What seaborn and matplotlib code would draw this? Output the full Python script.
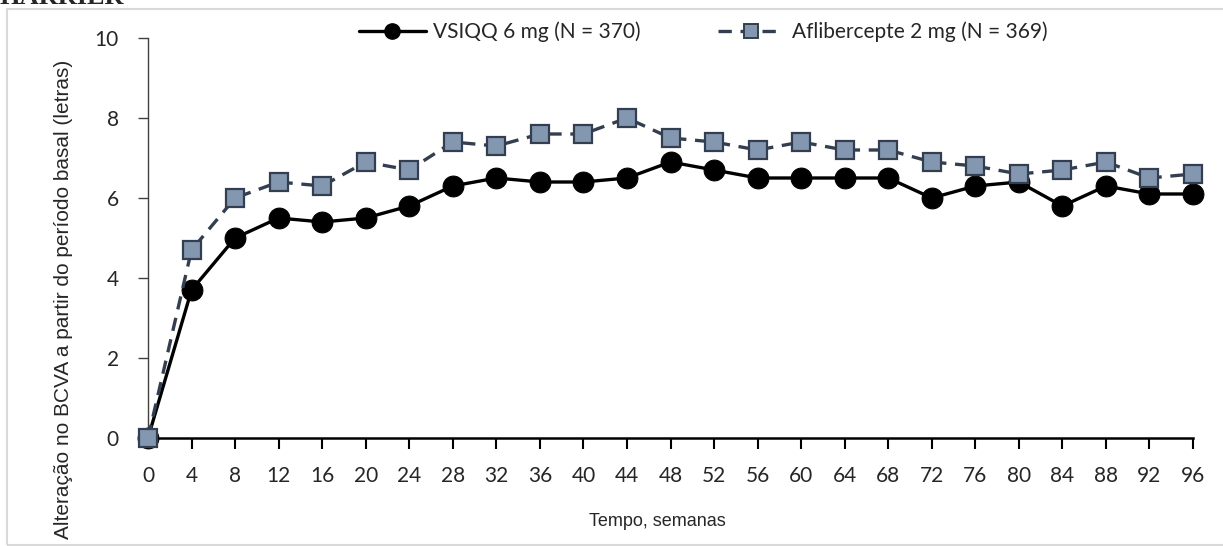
import matplotlib
matplotlib.use("Agg")
import matplotlib.pyplot as plt
import matplotlib.patches as mpatches
from matplotlib.lines import Line2D
import seaborn as sns
import pandas as pd

weeks = [0, 4, 8, 12, 16, 20, 24, 28, 32, 36, 40, 44, 48, 52, 56, 60, 64, 68, 72, 76, 80, 84, 88, 92, 96]
vsiqq = [0, 3.7, 5.0, 5.5, 5.4, 5.5, 5.8, 6.3, 6.5, 6.4, 6.4, 6.5, 6.9, 6.7, 6.5, 6.5, 6.5, 6.5, 6.0, 6.3, 6.4, 5.8, 6.3, 6.1, 6.1]
aflib = [0, 4.7, 6.0, 6.4, 6.3, 6.9, 6.7, 7.4, 7.3, 7.6, 7.6, 8.0, 7.5, 7.4, 7.2, 7.4, 7.2, 7.2, 6.9, 6.8, 6.6, 6.7, 6.9, 6.5, 6.6]
labels = ["VSIQQ 6 mg (N = 370)", "Aflibercepte 2 mg (N = 369)"]
yticks = [0, 2, 4, 6, 8, 10]
title = "HARRIER"
xlabel = "Tempo, semanas"
ylabel = "Alteração no BCVA a partir do período basal (letras)"

sns.set_theme(style="white")
plt.rcParams['font.family'] = ['Lato', 'DejaVu Sans']

W, H = 1223, 546
fig = plt.figure(figsize=(W / 100, H / 100), dpi=100)
ax = fig.add_axes([148 / W, 1 - 438 / H, (1193 - 148) / W, (438 - 38) / H])

df1 = pd.DataFrame({"x": weeks, "y": vsiqq})
df2 = pd.DataFrame({"x": weeks, "y": aflib})

dark = "#333F50"
sqfill = "#8497B0"

sns.lineplot(data=df1, x="x", y="y", ax=ax, color="black", lw=2.4,
             marker="o", markersize=15, markerfacecolor="black",
             markeredgecolor="black", clip_on=False, zorder=3)
sns.lineplot(data=df2, x="x", y="y", ax=ax, color=dark, lw=2.4,
             dashes=(4, 2.6), marker="s", markersize=13,
             markerfacecolor=sqfill, markeredgecolor=dark, markeredgewidth=1.6,
             clip_on=False, zorder=4)

ax.set_xlim(0, 96)
ax.set_ylim(0, 10)
ax.set_xticks(weeks)
ax.set_xticklabels([str(w) for w in weeks])
ax.set_yticks(yticks)
ax.set_xlabel("")
ax.set_ylabel("")
for s in ["top", "right"]:
    ax.spines[s].set_visible(False)
ax.spines["left"].set_color("#404040")
ax.spines["left"].set_linewidth(1.0)
ax.spines["bottom"].set_color("black")
ax.spines["bottom"].set_linewidth(1.8)
ax.tick_params(axis="x", direction="out", length=8, width=1.5, color="black",
               labelsize=15, pad=12, bottom=True)
ax.tick_params(axis="y", direction="out", length=7, width=1.0, color="#404040",
               labelsize=15, pad=14, left=True)
ax.grid(False)

h1 = Line2D([], [], color="black", lw=2.4, marker="o", markersize=11,
            markerfacecolor="black", markeredgecolor="black")
h2 = Line2D([], [], color=dark, lw=2.4, dashes=(4, 2.6), marker="s", markersize=10,
            markerfacecolor=sqfill, markeredgecolor=dark, markeredgewidth=1.4)
fig.legend([h1, h2], labels, loc="center", bbox_to_anchor=(703 / W, 1 - 32 / H),
           ncol=2, frameon=False, fontsize=15, handlelength=3.2,
           handletextpad=0.35, columnspacing=3.7)

fig.text(657 / W, 1 - 522 / H, xlabel, ha="center", va="center",
         fontsize=13, family=["Liberation Sans", "DejaVu Sans"])
fig.text(64 / W, 1 - 60 / H, ylabel, ha="center", va="top", rotation=90,
         fontsize=15, family=["Liberation Sans", "DejaVu Sans"])

fig.text(-1 / W, 1 - 4 / H, title, ha="left", va="baseline", fontsize=19,
         fontweight="bold", family=["Liberation Serif", "DejaVu Serif"])

rect = mpatches.Rectangle((7 / W, 1 - 545 / H), (1230 - 7) / W, (545 - 9) / H,
                          transform=fig.transFigure, fill=False,
                          edgecolor="#D9D9D9", lw=1.5, zorder=0)
fig.patches.append(rect)

fig.savefig("out.png", dpi=100)
